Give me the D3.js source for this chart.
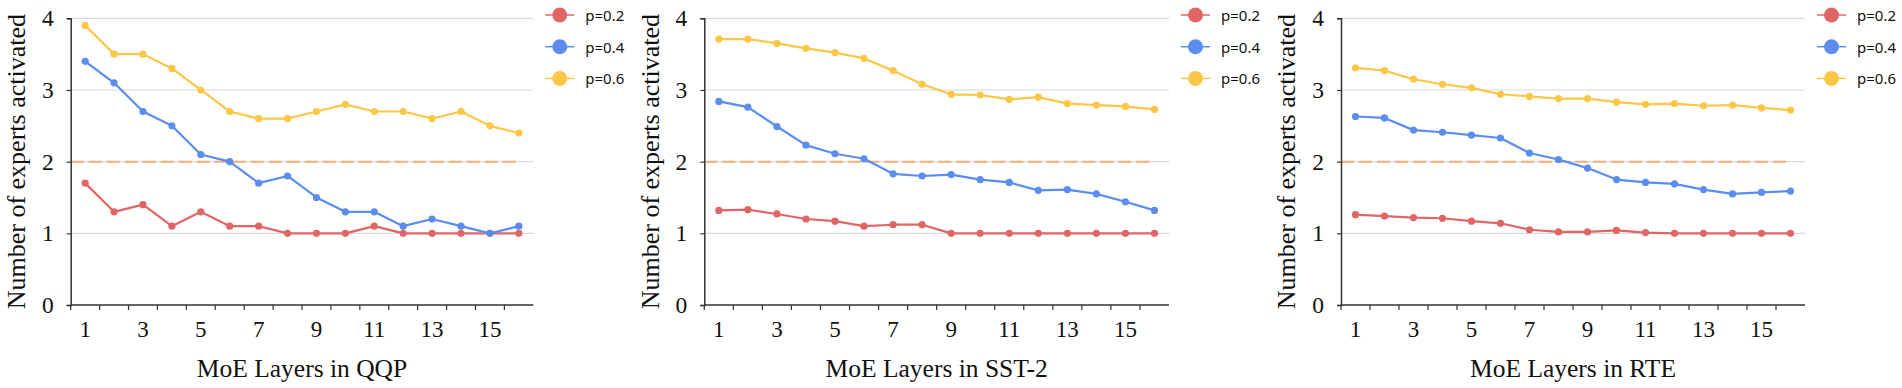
<!DOCTYPE html>
<html>
<head>
<meta charset="utf-8">
<script src="https://cdn.jsdelivr.net/npm/d3@7"></script>
<style>
  html, body { margin: 0; padding: 0; background: #fff; }
  svg { display: block; }
</style>
</head>
<body>
<svg id="chart" width="1902" height="388"></svg>
<script>
// ---- data ----
const layers = d3.range(1, 17);
const xTickLabels = ["1", "3", "5", "7", "9", "11", "13", "15"];
const yTicks = [0, 1, 2, 3, 4];
const seriesNames = ["p=0.2", "p=0.4", "p=0.6"];
const datasets = ["QQP", "SST-2", "RTE"];
const baseline = 2;

const qqp_p02 = [1.7, 1.3, 1.4, 1.1, 1.3, 1.1, 1.1, 1.0, 1.0, 1.0, 1.1, 1.0, 1.0, 1.0, 1.0, 1.0];
const qqp_p04 = [3.4, 3.1, 2.7, 2.5, 2.1, 2.0, 1.7, 1.8, 1.5, 1.3, 1.3, 1.1, 1.2, 1.1, 1.0, 1.1];
const qqp_p06 = [3.9, 3.5, 3.5, 3.3, 3.0, 2.7, 2.6, 2.6, 2.7, 2.8, 2.7, 2.7, 2.6, 2.7, 2.5, 2.4];

const sst_p02 = [1.32, 1.33, 1.27, 1.20, 1.17, 1.10, 1.12, 1.12, 1.0, 1.0, 1.0, 1.0, 1.0, 1.0, 1.0, 1.0];
const sst_p04 = [2.84, 2.76, 2.49, 2.23, 2.11, 2.04, 1.83, 1.80, 1.82, 1.75, 1.71, 1.60, 1.61, 1.55, 1.44, 1.32];
const sst_p06 = [3.71, 3.71, 3.65, 3.58, 3.52, 3.44, 3.27, 3.08, 2.94, 2.93, 2.87, 2.90, 2.81, 2.79, 2.77, 2.73];

const rte_p02 = [1.26, 1.24, 1.22, 1.21, 1.17, 1.14, 1.05, 1.02, 1.02, 1.04, 1.01, 1.0, 1.0, 1.0, 1.0, 1.0];
const rte_p04 = [2.63, 2.61, 2.44, 2.41, 2.37, 2.33, 2.12, 2.03, 1.91, 1.75, 1.71, 1.69, 1.61, 1.55, 1.57, 1.59];
const rte_p06 = [3.31, 3.27, 3.15, 3.08, 3.03, 2.94, 2.91, 2.88, 2.88, 2.83, 2.80, 2.81, 2.78, 2.79, 2.75, 2.72];

const panelSeries = [
  [qqp_p02, qqp_p04, qqp_p06],
  [sst_p02, sst_p04, sst_p06],
  [rte_p02, rte_p04, rte_p06]
];

// ---- style / layout ----
const colors = ["#e06666", "#5b8def", "#fcc646"];
const panels = [
  { x0: 70.7, x1: 533.3, yTitleX: 16 },
  { x0: 704.3, x1: 1169, yTitleX: 650 },
  { x0: 1341, x1: 1805, yTitleX: 1286 }
];
const yTop = 18.3, yBottom = 305;
const serif = "'Liberation Serif', 'Times New Roman', serif";
const sans = "'Noto Sans', 'Open Sans', sans-serif";

const svg = d3.select("#chart");

panels.forEach((p, pi) => {
  const g = svg.append("g");
  const x = d3.scaleBand().domain(layers).range([p.x0, p.x1]).paddingInner(0).paddingOuter(0);
  const cx = d => x(d) + x.bandwidth() / 2;
  const y = d3.scaleLinear().domain([0, 4]).range([yBottom, yTop]);

  // gridlines
  g.selectAll(".grid").data(yTicks.filter(v => v > 0)).join("line")
    .attr("x1", p.x0).attr("x2", p.x1)
    .attr("y1", d => y(d)).attr("y2", d => y(d))
    .attr("stroke", "#d9d9d9").attr("stroke-width", 1.2);

  // baseline dashed line
  g.append("line")
    .attr("x1", p.x0).attr("x2", cx(layers[layers.length - 1]))
    .attr("y1", y(baseline)).attr("y2", y(baseline))
    .attr("stroke", "#f4ad78").attr("stroke-width", 2)
    .attr("stroke-dasharray", "13,5");

  // y axis
  const yAxis = d3.axisLeft(y).tickValues(yTicks).tickSize(4).tickPadding(13).tickFormat(d3.format("d"));
  const ya = g.append("g").attr("transform", `translate(${p.x0},0)`).call(yAxis);
  ya.select(".domain").attr("stroke", "#333").attr("stroke-width", 1.5);
  ya.selectAll(".tick line").attr("stroke", "#333").attr("stroke-width", 1.2);
  ya.selectAll(".tick text").attr("font-family", serif).attr("font-size", 23.5).attr("fill", "#111");

  // x axis: ticks at band edges, labels at centers
  const xa = g.append("g");
  xa.append("line").attr("x1", p.x0).attr("x2", p.x1).attr("y1", yBottom).attr("y2", yBottom)
    .attr("stroke", "#333").attr("stroke-width", 1.5);
  xa.selectAll(".xt").data(layers).join("line")
    .attr("x1", d => x(d)).attr("x2", d => x(d))
    .attr("y1", yBottom).attr("y2", yBottom + 5)
    .attr("stroke", "#333").attr("stroke-width", 1.2);
  xa.selectAll(".xl").data(xTickLabels).join("text")
    .attr("x", d => cx(+d)).attr("y", 329)
    .attr("text-anchor", "middle").attr("dominant-baseline", "central")
    .attr("font-family", serif).attr("font-size", 23).attr("fill", "#111")
    .text(d => d);

  // titles
  g.append("text").attr("x", (p.x0 + p.x1) / 2).attr("y", 368)
    .attr("text-anchor", "middle").attr("dominant-baseline", "central")
    .attr("font-family", serif).attr("font-size", 25.5).attr("fill", "#111")
    .text("MoE Layers in " + datasets[pi]);
  g.append("text")
    .attr("transform", `translate(${p.yTitleX},${(yTop + yBottom) / 2}) rotate(-90)`)
    .attr("text-anchor", "middle").attr("dominant-baseline", "central")
    .attr("font-family", serif).attr("font-size", 26).attr("fill", "#111")
    .text("Number of experts activated");

  // series
  const line = d3.line().x((d, i) => cx(layers[i])).y(d => y(d));
  panelSeries[pi].forEach((vals, si) => {
    g.append("path").datum(vals).attr("d", line)
      .attr("fill", "none").attr("stroke", colors[si]).attr("stroke-width", 2.2)
      .attr("stroke-linejoin", "round");
    g.selectAll(".pt" + si).data(vals).join("circle")
      .attr("cx", (d, i) => cx(layers[i])).attr("cy", d => y(d))
      .attr("r", 3.6).attr("fill", colors[si]);
  });

  // legend
  const lg = g.append("g").attr("transform", `translate(${p.x1},0)`);
  seriesNames.forEach((name, si) => {
    const ly = 15 + si * 31.7;
    lg.append("line").attr("x1", 12).attr("x2", 41).attr("y1", ly).attr("y2", ly)
      .attr("stroke", colors[si]).attr("stroke-width", 1.5);
    lg.append("circle").attr("cx", 26.5).attr("cy", ly).attr("r", 7.5).attr("fill", colors[si]);
    lg.append("text").attr("x", 52).attr("y", ly)
      .attr("dominant-baseline", "central")
      .attr("font-family", sans).attr("font-size", 15).attr("fill", "#111")
      .text(name);
  });
});
</script>
</body>
</html>
